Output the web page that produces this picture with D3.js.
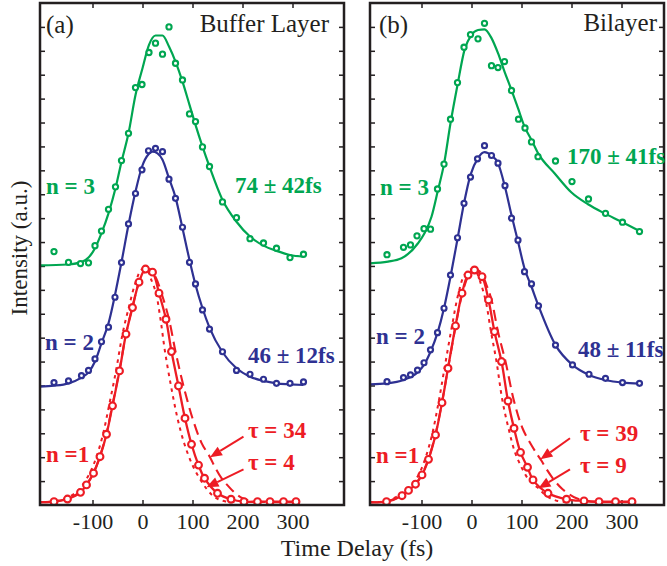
<!DOCTYPE html>
<html><head><meta charset="utf-8">
<script src="https://cdn.jsdelivr.net/npm/d3@7/dist/d3.min.js"></script>
<style>
body{margin:0;background:#fff}
svg text{font-family:"Liberation Serif","Times New Roman",serif}
</style>
</head><body>
<svg id="c" width="667" height="566"></svg>
<script>
// ---------- data (time delay fs, intensity a.u.) ----------
const xTicks = [-100, 0, 100, 200, 300];
const xTickLabels = ["-100", "0", "100", "200", "300"];
const yTicks = [1,2,3,4,5,6,7,8,9,10,11,12,13,14,15,16,17,18,19,20];

// Panel (a) Buffer Layer
const aN3 = [[-177,10.60],[-148,10.15],[-124,10.10],[-108,10.13],[-95,10.85],[-82,11.46],[-68,12.37],[-54,13.31],[-42,14.41],[-28,15.55],[-14,17.46],[-1,17.59],[13,18.93],[26,19.32],[40,18.86],[53,20.0],[66,18.48],[80,17.78],[94,16.36],[106,16.04],[120,14.98],[134,14.16],[160,12.68],[188,12.02],[215,11.14],[242,10.96],[268,10.74],[295,10.35],[322,10.49]];
const aN3Fit = [[-205,10.02],[-150,10.06],[-120,10.18],[-108,10.35],[-95,10.74],[-82,11.37],[-68,12.2],[-54,13.25],[-42,14.36],[-28,15.55],[-14,17.15],[0,18.27],[13,19.25],[26,19.64],[40,19.64],[53,19.18],[66,18.55],[80,17.71],[94,16.74],[106,15.9],[120,14.99],[134,14.15],[160,12.76],[188,11.85],[215,11.23],[242,10.85],[268,10.63],[295,10.46],[322,10.39]];
const aN2 = [[-177,5.12],[-148,5.19],[-122,5.41],[-108,5.63],[-95,6.11],[-82,6.83],[-68,7.44],[-55,8.69],[-42,10.14],[-28,11.76],[-14,13.03],[-1,14.02],[12,14.82],[26,14.92],[40,14.78],[53,13.63],[66,12.83],[80,11.62],[94,10.15],[106,9.25],[120,8.16],[134,7.36],[160,6.41],[188,5.63],[215,5.47],[242,5.26],[268,5.09],[295,5.09],[322,5.15]];
const aN2Fit = [[-205,4.95],[-177,4.99],[-148,5.09],[-122,5.33],[-108,5.55],[-95,6.0],[-82,6.77],[-68,7.6],[-55,8.79],[-42,10.16],[-28,11.72],[-14,13.11],[-1,14.15],[12,14.67],[20,14.78],[30,14.71],[40,14.44],[53,13.66],[66,12.87],[80,11.58],[94,10.25],[106,9.21],[120,8.23],[134,7.42],[160,6.39],[188,5.72],[215,5.37],[242,5.19],[268,5.09],[295,5.05],[322,5.02]];
const aN1 = [[-177,0.14],[-150,0.25],[-124,0.53],[-112,0.84],[-98,1.33],[-85,2.02],[-72,2.96],[-60,4.15],[-46,5.61],[-33,7.15],[-20,8.26],[-7,9.32],[6,9.87],[20,9.74],[33,8.86],[47,7.77],[58,6.42],[72,4.98],[85,3.63],[98,2.54],[112,1.67],[124,1.12],[150,0.49],[177,0.24],[203,0.14],[230,0.14],[255,0.14],[282,0.14],[307,0.14]];
const aN1Start = [-205,0.12];
const aTau34 = [[-205,0.12],[-177,0.14],[-150,0.27],[-124,0.55],[-112,0.85],[-98,1.35],[-85,2.05],[-72,3.0],[-60,4.2],[-46,5.65],[-33,7.15],[-20,8.3],[-7,9.3],[6,9.8],[16,9.85],[27,9.5],[38,8.86],[53,7.77],[66,6.42],[82,4.98],[100,3.63],[118,2.6],[135,2.0],[144,1.62],[158,1.12],[172,0.78],[185,0.5],[200,0.28],[220,0.16],[260,0.12],[310,0.12]];
const aTau4 = [[-205,0.12],[-177,0.15],[-155,0.27],[-131,0.55],[-119,0.86],[-105,1.35],[-92,2.02],[-79,2.96],[-67,4.15],[-53,5.61],[-40,7.15],[-27,8.3],[-14,9.3],[-2,9.85],[8,9.85],[18,9.4],[27,8.86],[36,7.77],[45,6.42],[57,4.98],[70,3.63],[84,2.54],[100,1.67],[114,1.12],[128,0.68],[140,0.4],[151,0.25],[166,0.15],[190,0.12]];

// Panel (b) Bilayer
const bN3 = [[-169,10.47],[-136,10.78],[-122,10.88],[-109,11.26],[-95,11.56],[-82,11.54],[-68,13.22],[-55,14.26],[-42,16.14],[-28,17.67],[-15,19.15],[-2,19.68],[13,19.5],[26,20.15],[40,18.38],[53,18.3],[66,18.55],[80,17.34],[94,16.14],[107,15.77],[120,15.19],[133,14.57],[168,14.39],[201,13.53],[234,12.8],[268,12.2],[302,11.83],[336,11.44]];
const bN3Fit = [[-203,10.11],[-167,10.18],[-140,10.32],[-107,10.95],[-94,11.37],[-80,12.06],[-67,13.18],[-55,14.26],[-42,15.97],[-28,17.57],[-14,19.04],[0,19.67],[13,19.87],[26,19.9],[40,19.53],[53,18.9],[66,18.13],[80,17.36],[93,16.6],[106,15.83],[120,15.27],[133,14.72],[166,13.88],[200,13.07],[233,12.58],[266,12.2],[300,11.85],[336,11.46]];
const bN2 = [[-169,5.16],[-136,5.33],[-122,5.44],[-108,5.64],[-95,5.95],[-82,6.49],[-68,7.21],[-55,8.23],[-42,9.62],[-28,11.18],[-15,12.62],[-2,13.72],[12,14.48],[26,15.03],[40,14.62],[53,14.3],[67,13.36],[80,12.0],[93,11.08],[106,9.76],[120,9.25],[134,8.33],[168,6.69],[202,5.86],[235,5.47],[268,5.3],[302,5.12],[336,5.09]];
const bN2Fit = [[-203,5.05],[-169,5.09],[-136,5.23],[-108,5.55],[-95,5.86],[-82,6.41],[-68,7.2],[-55,8.23],[-42,9.55],[-28,11.13],[-15,12.62],[-2,13.81],[13,14.51],[26,14.76],[40,14.62],[53,14.3],[66,13.39],[80,12.13],[93,11.02],[106,9.9],[120,9.13],[134,8.33],[168,6.69],[202,5.86],[235,5.44],[268,5.23],[302,5.12],[336,5.08]];
const bN1 = [[-170,0.14],[-139,0.39],[-126,0.61],[-112,0.87],[-99,1.26],[-86,1.91],[-72,2.93],[-59,4.28],[-47,5.72],[-32,7.49],[-19,8.86],[-7,9.62],[6,9.83],[21,9.55],[34,8.58],[46,7.25],[60,6.0],[73,4.35],[85,3.21],[98,2.2],[112,1.58],[123,1.05],[153,0.49],[190,0.24],[225,0.17],[255,0.14],[288,0.14],[321,0.14]];
const bN1Start = [-203,0.12];
const bTau39 = [[-203,0.12],[-170,0.15],[-139,0.4],[-126,0.62],[-112,0.88],[-99,1.28],[-86,1.94],[-72,2.96],[-59,4.3],[-47,5.72],[-32,7.45],[-19,8.8],[-7,9.55],[6,9.85],[18,9.75],[30,9.2],[40,8.58],[53,7.25],[68,6.0],[85,4.35],[102,3.21],[120,2.5],[132,2.1],[140,1.85],[150,1.5],[165,1.05],[180,0.7],[195,0.45],[210,0.28],[230,0.16],[260,0.12],[320,0.12]];
const bTau9 = [[-203,0.12],[-177,0.15],[-146,0.38],[-133,0.6],[-119,0.87],[-106,1.26],[-93,1.91],[-79,2.93],[-66,4.28],[-54,5.72],[-39,7.49],[-26,8.86],[-14,9.62],[-1,9.85],[9,9.75],[18,9.3],[28,8.58],[39,7.25],[50,6.0],[62,4.35],[74,3.21],[87,2.2],[100,1.58],[113,1.1],[125,0.85],[135,0.68],[146,0.45],[158,0.28],[172,0.17],[195,0.12]];

// annotation arrows (data coords: tail, tip)
const aArrow34 = [[202,2.86],[135,2.0]];
const aArrow4 = [[202,1.49],[128,0.74]];
const bArrow39 = [[197,2.79],[138,1.91]];
const bArrow9 = [[197,1.49],[134,0.70]];

// ---------- drawing ----------
const GREEN = "#00a651", BLUE = "#2e3192", RED = "#ed1c24", INK = "#231f20";
const svg = d3.select("#c");
const y = d3.scaleLinear().domain([0, 21]).range([505, 3]);

function styleAxis(g) {
  g.select(".domain").remove();
  g.selectAll(".tick line").attr("stroke", INK).attr("stroke-width", 1.5);
  g.selectAll(".tick text").attr("fill", INK).style("font-size", "22px")
    .style("font-family", '"Liberation Serif","Times New Roman",serif');
}

function panel(cfg) {
  const x = d3.scaleLinear().domain(cfg.dom).range(cfg.rng);
  const g = svg.append("g");
  const [x0, x1] = cfg.rng;

  g.append("g").attr("transform", `translate(0,${y(0)})`)
    .call(d3.axisBottom(x).tickValues(xTicks)
      .tickFormat(d => xTickLabels[xTicks.indexOf(d)]).tickSize(-5).tickPadding(8))
    .call(styleAxis);
  g.append("g").attr("transform", `translate(0,${y(21)})`)
    .call(d3.axisTop(x).tickValues(xTicks).tickFormat("").tickSize(-5)).call(styleAxis);
  g.append("g").attr("transform", `translate(${x0},0)`)
    .call(d3.axisLeft(y).tickValues(yTicks).tickFormat("").tickSize(-5)).call(styleAxis);
  g.append("g").attr("transform", `translate(${x1},0)`)
    .call(d3.axisRight(y).tickValues(yTicks).tickFormat("").tickSize(-5)).call(styleAxis);

  const line = d3.line().x(d => x(d[0])).y(d => y(d[1])).curve(d3.curveMonotoneX);
  const lin = d3.line().x(d => x(d[0])).y(d => y(d[1])).curve(d3.curveCatmullRom.alpha(0.5));

  // red fits (dotted and dashed)
  g.append("path").attr("d", lin(cfg.tauShort)).attr("fill", "none").attr("stroke", RED)
    .attr("stroke-width", 2).attr("stroke-dasharray", "3.5,4.5");
  g.append("path").attr("d", lin(cfg.tauLong)).attr("fill", "none").attr("stroke", RED)
    .attr("stroke-width", 2.1).attr("stroke-dasharray", "11,6");
  // red data line
  g.append("path").attr("d", lin([cfg.n1Start].concat(cfg.n1))).attr("fill", "none")
    .attr("stroke", RED).attr("stroke-width", 2.3);
  // blue & green fits
  g.append("path").attr("d", line(cfg.n2Fit)).attr("fill", "none").attr("stroke", BLUE).attr("stroke-width", 2.2);
  g.append("path").attr("d", line(cfg.n3Fit)).attr("fill", "none").attr("stroke", GREEN).attr("stroke-width", 2.2);

  // markers
  const mk = (data, color, r, sw) => g.append("g").selectAll("circle").data(data).join("circle")
    .attr("cx", d => x(d[0])).attr("cy", d => y(d[1])).attr("r", r)
    .attr("fill", "#fff").attr("stroke", color).attr("stroke-width", sw);
  mk(cfg.n3, GREEN, 2.6, 2.1);
  mk(cfg.n2, BLUE, 2.5, 2.2);
  mk(cfg.n1, RED, 3.4, 2.1);

  // frame
  g.append("rect").attr("x", x0).attr("y", y(21)).attr("width", x1 - x0).attr("height", y(0) - y(21))
    .attr("fill", "none").attr("stroke", INK).attr("stroke-width", 2.5);

  // arrows
  const arrow = (a) => {
    const [sx, sy] = [x(a[0][0]), y(a[0][1])], [tx, ty] = [x(a[1][0]), y(a[1][1])];
    const ang = Math.atan2(ty - sy, tx - sx), L = 12, W = 5;
    const bx = tx - L * Math.cos(ang), by = ty - L * Math.sin(ang);
    g.append("line").attr("x1", sx).attr("y1", sy).attr("x2", bx).attr("y2", by)
      .attr("stroke", RED).attr("stroke-width", 2);
    g.append("path").attr("fill", RED).attr("d",
      `M${tx},${ty}L${bx + W * Math.sin(ang)},${by - W * Math.cos(ang)}L${bx - W * Math.sin(ang)},${by + W * Math.cos(ang)}Z`);
  };
  arrow(cfg.arrowLong); arrow(cfg.arrowShort);

  // texts
  const txt = (t, px, py, opts) => {
    const e = g.append("text").attr("x", px).attr("y", py).text(t)
      .attr("fill", opts.fill || INK).style("font-size", (opts.size || 23) + "px");
    if (opts.bold) e.style("font-weight", "bold");
    if (opts.anchor) e.attr("text-anchor", opts.anchor);
    return e;
  };
  cfg.texts.forEach(t => txt(t[0], t[1], t[2], t[3]));
}

panel({
  dom: [-205, 403], rng: [40, 344],
  n3: aN3, n3Fit: aN3Fit, n2: aN2, n2Fit: aN2Fit, n1: aN1, n1Start: aN1Start,
  tauLong: aTau34, tauShort: aTau4, arrowLong: aArrow34, arrowShort: aArrow4,
  texts: [
    ["(a)", 46, 33, {size: 25}],
    ["Buffer Layer", 329, 32, {size: 25, anchor: "end"}],
    ["n = 3", 46, 194, {bold: true, fill: GREEN}],
    ["74 ± 42fs", 235, 193, {bold: true, fill: GREEN}],
    ["n = 2", 45, 350, {bold: true, fill: BLUE}],
    ["46 ± 12fs", 248, 363, {bold: true, fill: BLUE}],
    ["n =1", 46, 462, {bold: true, fill: RED}],
    ["τ = 34", 248, 438, {bold: true, fill: RED}],
    ["τ = 4", 248, 470, {bold: true, fill: RED}]
  ]
});
panel({
  dom: [-203, 385], rng: [370, 664],
  n3: bN3, n3Fit: bN3Fit, n2: bN2, n2Fit: bN2Fit, n1: bN1, n1Start: bN1Start,
  tauLong: bTau39, tauShort: bTau9, arrowLong: bArrow39, arrowShort: bArrow9,
  texts: [
    ["(b)", 379, 33, {size: 25}],
    ["Bilayer", 657, 31, {size: 25, anchor: "end"}],
    ["n = 3", 380, 195, {bold: true, fill: GREEN}],
    ["170 ± 41fs", 567, 164, {bold: true, fill: GREEN}],
    ["n = 2", 376, 344, {bold: true, fill: BLUE}],
    ["48 ± 11fs", 578, 357, {bold: true, fill: BLUE}],
    ["n =1", 376, 463, {bold: true, fill: RED}],
    ["τ = 39", 580, 441, {bold: true, fill: RED}],
    ["τ = 9", 580, 473, {bold: true, fill: RED}]
  ]
});

// axis titles
svg.append("text").attr("x", 357).attr("y", 556).attr("text-anchor", "middle")
  .attr("fill", INK).style("font-size", "24px").text("Time Delay (fs)");
svg.append("text").attr("transform", "translate(27,248) rotate(-90)").attr("text-anchor", "middle")
  .attr("fill", INK).style("font-size", "23px").text("Intensity (a.u.)");
</script>
</body></html>
